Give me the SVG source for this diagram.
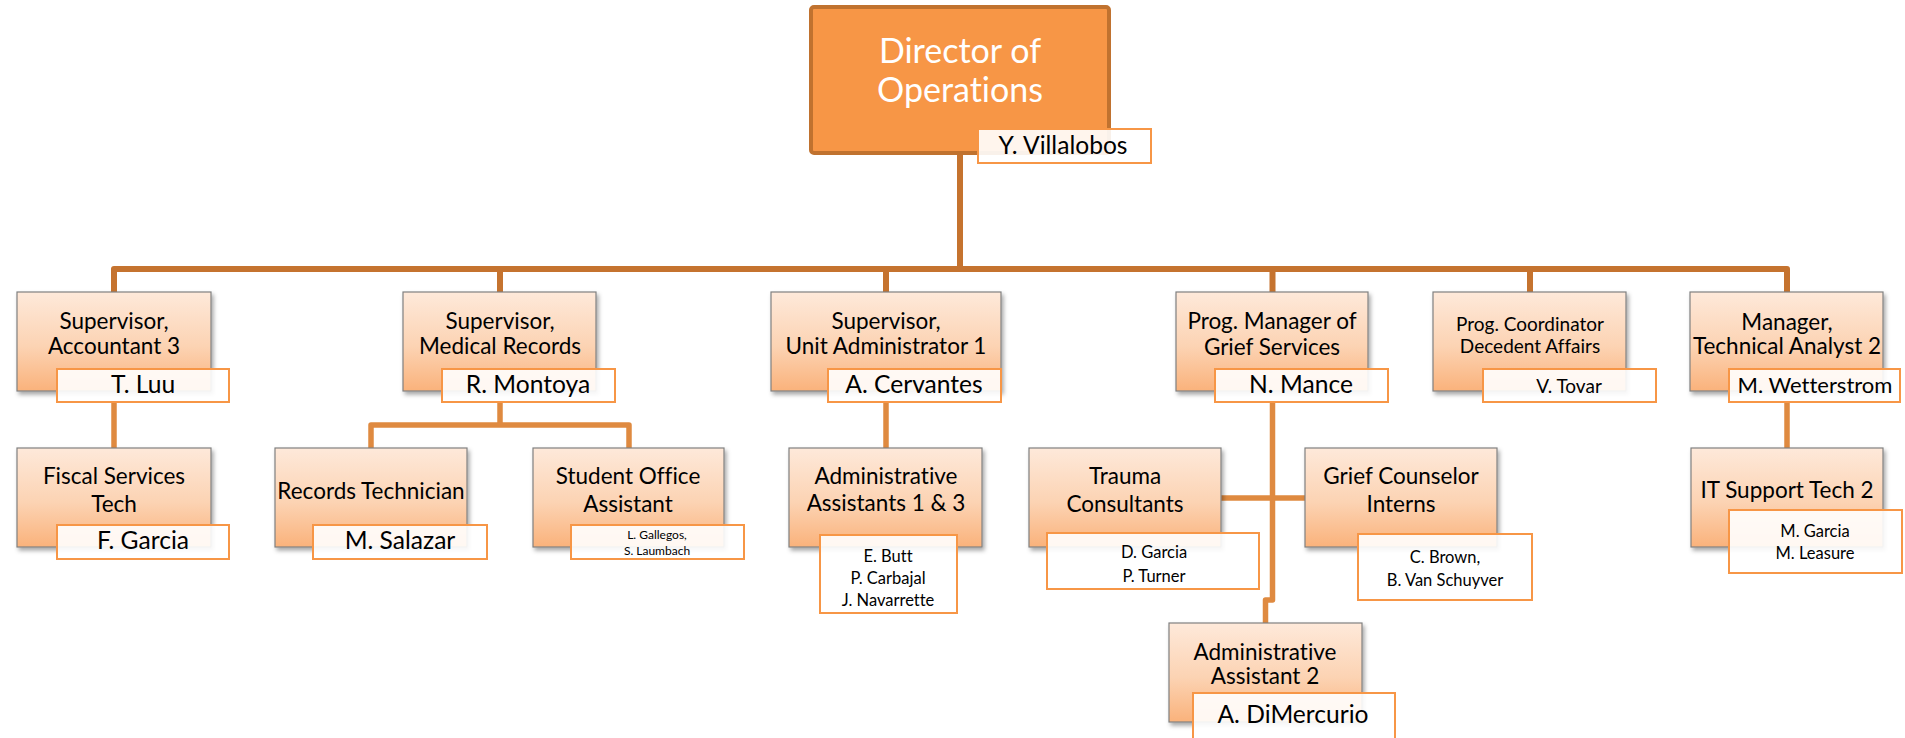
<svg xmlns="http://www.w3.org/2000/svg" width="1905" height="738" viewBox="0 0 1905 738">
<defs>
<linearGradient id="peach" x1="0" y1="0" x2="0" y2="1">
<stop offset="0" stop-color="#fee9da"/>
<stop offset="0.55" stop-color="#fcd3b3"/>
<stop offset="1" stop-color="#fab27b"/>
</linearGradient>
<filter id="sh" x="-10%" y="-10%" width="125%" height="130%">
<feDropShadow dx="2" dy="3" stdDeviation="2" flood-color="#000" flood-opacity="0.35"/>
</filter>
<style>
text{font-family:Lato,"Open Sans","Liberation Sans",sans-serif;fill:#000;text-anchor:middle;font-variant-ligatures:none}
.box{fill:url(#peach);stroke:#808080;stroke-width:1.2;filter:url(#sh)}
.nm{fill:#fff;fill-opacity:0.9;stroke:#f79646;stroke-width:2}
.t{font-size:22.5px}
.ts{font-size:19px}
.n{font-size:24.6px}
.nm2{font-size:22px}
.ns{font-size:16.5px}
.nxs{font-size:12px}
.top{fill:none;stroke:#c5732f;stroke-width:6;stroke-linejoin:round}
.sub{fill:none;stroke:#df8a40;stroke-width:5.5;stroke-linejoin:round}
</style>
</defs>
<g id="connectors">
<path class="top" d="M960 153V269M114 292V269H1787V292M500 269V292M886 269V292M1272.5 269V292M1530 269V292"/>
<path class="sub" d="M114 402V448M500 402V425M371 448V425H629V448M886 402V448M1272.5 402V600H1265.5V623M1221 498H1305M1787 402V448"/>
</g>
<g id="director">
<rect x="811" y="7" width="298" height="146" rx="3" fill="#f79646" stroke="#c0722f" stroke-width="4"/>
<text x="960" y="63" style="font-size:34px;fill:#fff">Director of</text>
<text x="960" y="102" style="font-size:34px;fill:#fff">Operations</text>
<rect class="nm" x="978" y="129" width="173" height="34"/>
<text class="n" x="1063" y="154">Y. Villalobos</text>
</g>
<g id="sup-accountant">
<rect class="box" x="17" y="292" width="194" height="99"/>
<text class="t" x="114" y="329">Supervisor,</text>
<text class="t" x="114" y="354">Accountant 3</text>
<rect class="nm" x="57" y="369" width="172" height="33"/>
<text class="n" x="143" y="393">T. Luu</text>
</g>
<g id="sup-medical">
<rect class="box" x="403" y="292" width="193" height="99"/>
<text class="t" x="500" y="329">Supervisor,</text>
<text class="t" x="500" y="354">Medical Records</text>
<rect class="nm" x="442" y="369" width="173" height="33"/>
<text class="n" x="528" y="393">R. Montoya</text>
</g>
<g id="sup-unit">
<rect class="box" x="771" y="292" width="230" height="99"/>
<text class="t" x="886" y="329">Supervisor,</text>
<text class="t" x="886" y="354">Unit Administrator 1</text>
<rect class="nm" x="828" y="369" width="173" height="33"/>
<text class="n" x="914" y="393">A. Cervantes</text>
</g>
<g id="grief-manager">
<rect class="box" x="1176" y="292" width="192" height="99"/>
<text class="t" x="1272" y="329">Prog. Manager of</text>
<text class="t" x="1272" y="355">Grief Services</text>
<rect class="nm" x="1215" y="369" width="173" height="33"/>
<text class="n" x="1301" y="393">N. Mance</text>
</g>
<g id="decedent">
<rect class="box" x="1433" y="292" width="193" height="99"/>
<text class="ts" x="1530" y="331">Prog. Coordinator</text>
<text class="ts" x="1530" y="353">Decedent Affairs</text>
<rect class="nm" x="1483" y="369" width="173" height="33"/>
<text class="ts" x="1569" y="393">V. Tovar</text>
</g>
<g id="tech-manager">
<rect class="box" x="1690" y="292" width="193" height="99"/>
<text class="t" x="1787" y="330">Manager,</text>
<text class="t" x="1787" y="354">Technical Analyst 2</text>
<rect class="nm" x="1729" y="369" width="171" height="33"/>
<text class="nm2" x="1815" y="393">M. Wetterstrom</text>
</g>
<g id="fiscal">
<rect class="box" x="17" y="448" width="194" height="99"/>
<text class="t" x="114" y="484">Fiscal Services</text>
<text class="t" x="114" y="512">Tech</text>
<rect class="nm" x="57" y="525" width="172" height="34"/>
<text class="n" x="143" y="549">F. Garcia</text>
</g>
<g id="records-tech">
<rect class="box" x="275" y="448" width="192" height="99"/>
<text class="t" x="371" y="499">Records Technician</text>
<rect class="nm" x="313" y="525" width="174" height="34"/>
<text class="n" x="400" y="549">M. Salazar</text>
</g>
<g id="student">
<rect class="box" x="533" y="448" width="191" height="99"/>
<text class="t" x="628" y="484">Student Office</text>
<text class="t" x="628" y="512">Assistant</text>
<rect class="nm" x="571" y="525" width="173" height="34"/>
<text class="nxs" x="657" y="539">L. Gallegos,</text>
<text class="nxs" x="657" y="555">S. Laumbach</text>
</g>
<g id="admin-13">
<rect class="box" x="789" y="448" width="193" height="99"/>
<text class="t" x="886" y="484">Administrative</text>
<text class="t" x="886" y="511">Assistants 1 &amp; 3</text>
<rect class="nm" x="820" y="535" width="137" height="78"/>
<text class="ns" x="888" y="562">E. Butt</text>
<text class="ns" x="888" y="584">P. Carbajal</text>
<text class="ns" x="888" y="606">J. Navarrette</text>
</g>
<g id="trauma">
<rect class="box" x="1029" y="448" width="192" height="99"/>
<text class="t" x="1125" y="484">Trauma</text>
<text class="t" x="1125" y="512">Consultants</text>
<rect class="nm" x="1047" y="533" width="212" height="56"/>
<text class="ns" x="1154" y="558">D. Garcia</text>
<text class="ns" x="1154" y="582">P. Turner</text>
</g>
<g id="interns">
<rect class="box" x="1305" y="448" width="192" height="99"/>
<text class="t" x="1401" y="484">Grief Counselor</text>
<text class="t" x="1401" y="512">Interns</text>
<rect class="nm" x="1358" y="534" width="174" height="66"/>
<text class="ns" x="1445" y="563">C. Brown,</text>
<text class="ns" x="1445" y="586">B. Van Schuyver</text>
</g>
<g id="admin-2">
<rect class="box" x="1169" y="623" width="193" height="99"/>
<text class="t" x="1265" y="660">Administrative</text>
<text class="t" x="1265" y="684">Assistant 2</text>
<rect class="nm" x="1193" y="693" width="202" height="50"/>
<text class="n" x="1293" y="723">A. DiMercurio</text>
</g>
<g id="it-support">
<rect class="box" x="1691" y="448" width="192" height="99"/>
<text class="t" x="1787" y="498">IT Support Tech 2</text>
<rect class="nm" x="1729" y="510" width="173" height="63"/>
<text class="ns" x="1815" y="537">M. Garcia</text>
<text class="ns" x="1815" y="559">M. Leasure</text>
</g>
</svg>
